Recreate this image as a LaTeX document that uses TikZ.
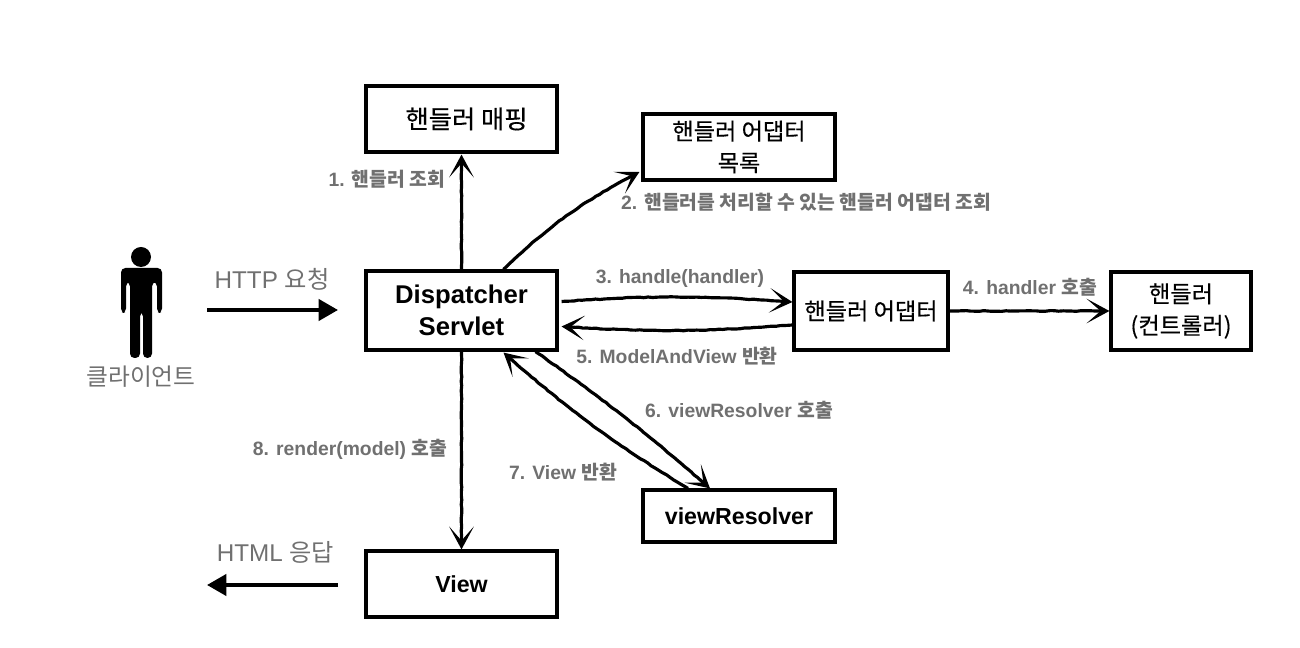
\documentclass[tikz,border=0pt]{standalone}
\usepackage{fontspec}
\setmainfont{Liberation Sans}
\newfontfamily\krfont{Noto Sans CJK KR}
\newfontfamily\krmedium[FakeBold=0.35]{Noto Sans CJK KR}
\newcommand{\kr}[1]{{\krfont #1}}
\definecolor{labelgray}{RGB}{112, 112, 112}
\usetikzlibrary{arrows.meta, positioning, decorations.pathmorphing}
\tikzset{
    flowbox/.style={
        rectangle,
        draw=black,
        line width=1.8pt,
        align=center,
        font=\fontsize{13.2}{17}\selectfont\bfseries,
        inner sep=0pt
    },
    korbox/.style={
        flowbox,
        font=\fontsize{13.2}{18}\selectfont\krmedium
    },
    steplabel/.style={
        text=labelgray,
        font=\fontsize{11}{13}\selectfont\bfseries,
        inner sep=0pt
    },
    sidelabel/.style={
        text=labelgray,
        font=\fontsize{13.8}{16}\selectfont,
        inner sep=0pt
    },
    arrowstyle/.style={->, line width=1.8pt, >={Stealth[length=13pt,width=14pt,inset=8pt]},
        decorate, decoration={random steps, segment length=2.5pt, amplitude=0.2pt, pre length=2pt, post length=8pt}},
    sidearrow/.style={->, line width=2.2pt, >={Triangle[length=11pt,width=12pt]}}
}
\begin{document}
\begin{tikzpicture}
      \useasboundingbox (0,0) rectangle (26,12.96);

      % boxes
      \node[korbox, font=\fontsize{14.4}{18}\selectfont\krmedium, minimum width=3.82cm, minimum height=1.32cm] (mapping) at (9.23,10.58) {\hspace*{0.2cm}핸들러 매핑};
      \node[korbox, minimum width=3.84cm, minimum height=1.32cm] (adapterlist) at (14.78,10.02) {핸들러 어댑터\\목록};
      \node[flowbox, font=\fontsize{14.6}{18}\selectfont\bfseries, minimum width=3.82cm, minimum height=1.58cm] (dispatcher) at (9.23,6.75) {Dispatcher\\Servlet};
      \node[korbox, minimum width=3.08cm, minimum height=1.56cm] (adapter) at (17.42,6.74) {핸들러 어댑터};
      \node[korbox, minimum width=2.80cm, minimum height=1.56cm] (handler) at (23.62,6.74) {핸들러\\(컨트롤러)};
      \node[flowbox, minimum width=3.84cm, minimum height=1.04cm] (resolver) at (14.78,2.64) {viewResolver};
      \node[flowbox, minimum width=3.82cm, minimum height=1.32cm] (view) at (9.23,1.28) {View};

      % client figure
      \fill (2.82,7.82) circle (0.2);
      \fill[rounded corners=2.5pt] (2.42,7.60) -- (3.24,7.60) -- (3.24,6.70) -- (3.14,6.70) -- (3.14,7.32) -- (3.04,7.32)
        -- (3.04,5.80) -- (2.86,5.80) -- (2.86,6.72) -- (2.80,6.72) -- (2.80,5.80) -- (2.60,5.80) -- (2.60,7.32)
        -- (2.52,7.32) -- (2.52,6.70) -- (2.42,6.70) -- cycle;
      \node[sidelabel, font=\fontsize{13.5}{16}\selectfont\krfont] (client) at (2.82,5.42) {클라이언트};

      % request and response
      \coordinate (reqstart) at (4.14,6.76);
      \coordinate (reqend) at (6.76,6.76);
      \coordinate (respstart) at (6.76,1.26);
      \coordinate (respend) at (4.14,1.26);
      \draw[sidearrow] (reqstart) -- (reqend);
      \draw[sidearrow] (respstart) -- (respend);
      \node[sidelabel] (reqlabel) at (5.44,7.38) {HTTP \kr{요청}};
      \node[sidelabel] (resplabel) at (5.51,1.92) {HTML \kr{응답}};

      % connectors
      \draw[arrowstyle] (dispatcher.north) -- ([yshift=-0.02cm]mapping.south);
      \draw[arrowstyle] ([xshift=0.84cm]dispatcher.north) to[bend left=8] ([xshift=-0.04cm,yshift=-0.50cm]adapterlist.west);
      \draw[arrowstyle] ([xshift=0.06cm,yshift=0.18cm]dispatcher.east) to[bend left=4] ([yshift=0.18cm]adapter.west);
      \draw[arrowstyle] ([yshift=-0.28cm]adapter.west) to[bend left=4] ([xshift=0.06cm,yshift=-0.32cm]dispatcher.east);
      \draw[arrowstyle] (adapter.east) -- (handler.west);
      \draw[arrowstyle] ([xshift=1.48cm]dispatcher.south) to[bend left=3] ([xshift=-0.58cm]resolver.north);
      \draw[arrowstyle] ([xshift=-1.02cm]resolver.north) to[bend left=5] ([xshift=0.84cm,yshift=-0.02cm]dispatcher.south);
      \draw[arrowstyle] (dispatcher.south) -- (view.north);

      % step labels
      \node[steplabel] (step1) at (7.74,9.38) {1. \kr{핸들러 조회}};
      \node[steplabel] (step2) at (16.12,8.92) {2. \kr{핸들러를 처리할 수 있는 핸들러 어댑터 조회}};
      \node[steplabel] (step3) at (13.60,7.38) {3. handle(handler)};
      \node[steplabel] (step4) at (20.60,7.22) {4. handler \kr{호출}};
      \node[steplabel] (step5) at (13.54,5.84) {5. ModelAndView \kr{반환}};
      \node[steplabel] (step6) at (14.78,4.76) {6. viewResolver \kr{호출}};
      \node[steplabel] (step7) at (11.26,3.52) {7. View \kr{반환}};
      \node[steplabel] (step8) at (7.00,3.98) {8. render(model) \kr{호출}};
    \end{tikzpicture}
\end{document}
